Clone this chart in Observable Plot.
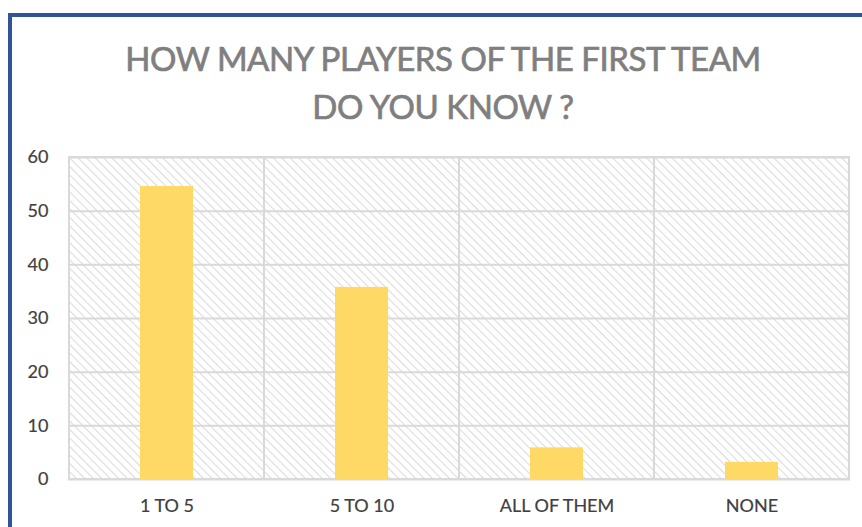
<!DOCTYPE html>
<html>
<head>
<meta charset="utf-8">
<script src="https://cdn.jsdelivr.net/npm/d3@7"></script>
<script src="https://cdn.jsdelivr.net/npm/@observablehq/plot@0.6"></script>
<style>
  html, body { margin: 0; padding: 0; background: #fff; }
  #wrap { position: relative; width: 862px; height: 527px; overflow: hidden; font-family: Lato, "Open Sans", sans-serif; }
  #border { position: absolute; left: 8px; top: 13px; width: 900px; height: 600px; border-left: 4px solid #2F5597; border-top: 4px solid #2F5597; box-sizing: border-box; }
  #title { position: absolute; left: 0; width: 886px; top: 34px; text-align: center; color: #7f7f7f; font-size: 33px; line-height: 48px; letter-spacing: -0.45px; -webkit-text-stroke: 0.7px #7f7f7f; }
  #chart { position: absolute; left: 0; top: 140px; }
  #chart svg text { stroke: #404040; stroke-width: 0.2px; }
</style>
</head>
<body>
<div id="wrap">
  <div id="border"></div>
  <div id="title">HOW MANY PLAYERS OF THE FIRST TEAM<br>DO YOU KNOW ?</div>
  <div id="chart"></div>
</div>
<script>
const categories = ["1 TO 5", "5 TO 10", "ALL OF THEM", "NONE"];
const values = [54.6, 35.8, 5.9, 3.2];
const yTicks = [0, 10, 20, 30, 40, 50, 60];

const data = categories.map((c, i) => ({category: c, value: values[i]}));

const plot = Plot.plot({
  width: 862,
  height: 387,
  marginTop: 17,
  marginBottom: 48,
  marginLeft: 68,
  marginRight: 12,
  style: {fontFamily: "Lato, 'Open Sans', sans-serif", fontSize: "18px", color: "#404040", background: "transparent"},
  x: {domain: categories, paddingInner: 0.73, paddingOuter: 0.365, label: null, tickSize: 0, tickPadding: 20},
  y: {domain: [0, 60], ticks: yTicks, label: null, tickSize: 0, tickPadding: 20},
  marks: [
    Plot.barY(categories, {x: d => d, y1: 0, y2: yTicks[yTicks.length - 1], fill: "url(#hatch)", insetLeft: -71, insetRight: -71}),
    Plot.gridY(yTicks, {stroke: "#d9d9d9", strokeOpacity: 1, strokeWidth: 2}),
    Plot.barY(categories, {x: d => d, y1: 0, y2: yTicks[yTicks.length - 1], fill: "none", stroke: "#d9d9d9", strokeWidth: 2, insetLeft: -71, insetRight: -71}),
    Plot.barY(data, {x: "category", y: "value", fill: "#FFD966"})
  ]
});

const svg = d3.select(plot);
const defs = svg.insert("defs", ":first-child");
const pat = defs.append("pattern")
  .attr("id", "hatch")
  .attr("patternUnits", "userSpaceOnUse")
  .attr("width", 6)
  .attr("height", 6)
  .attr("patternTransform", "rotate(-45)");
pat.append("rect").attr("width", 6).attr("height", 6).attr("fill", "#ffffff");
pat.append("line").attr("x1", 0).attr("y1", 0).attr("x2", 0).attr("y2", 6)
  .attr("stroke", "#dcdcdc").attr("stroke-width", 2.2);

document.getElementById("chart").appendChild(plot);
</script>
</body>
</html>
